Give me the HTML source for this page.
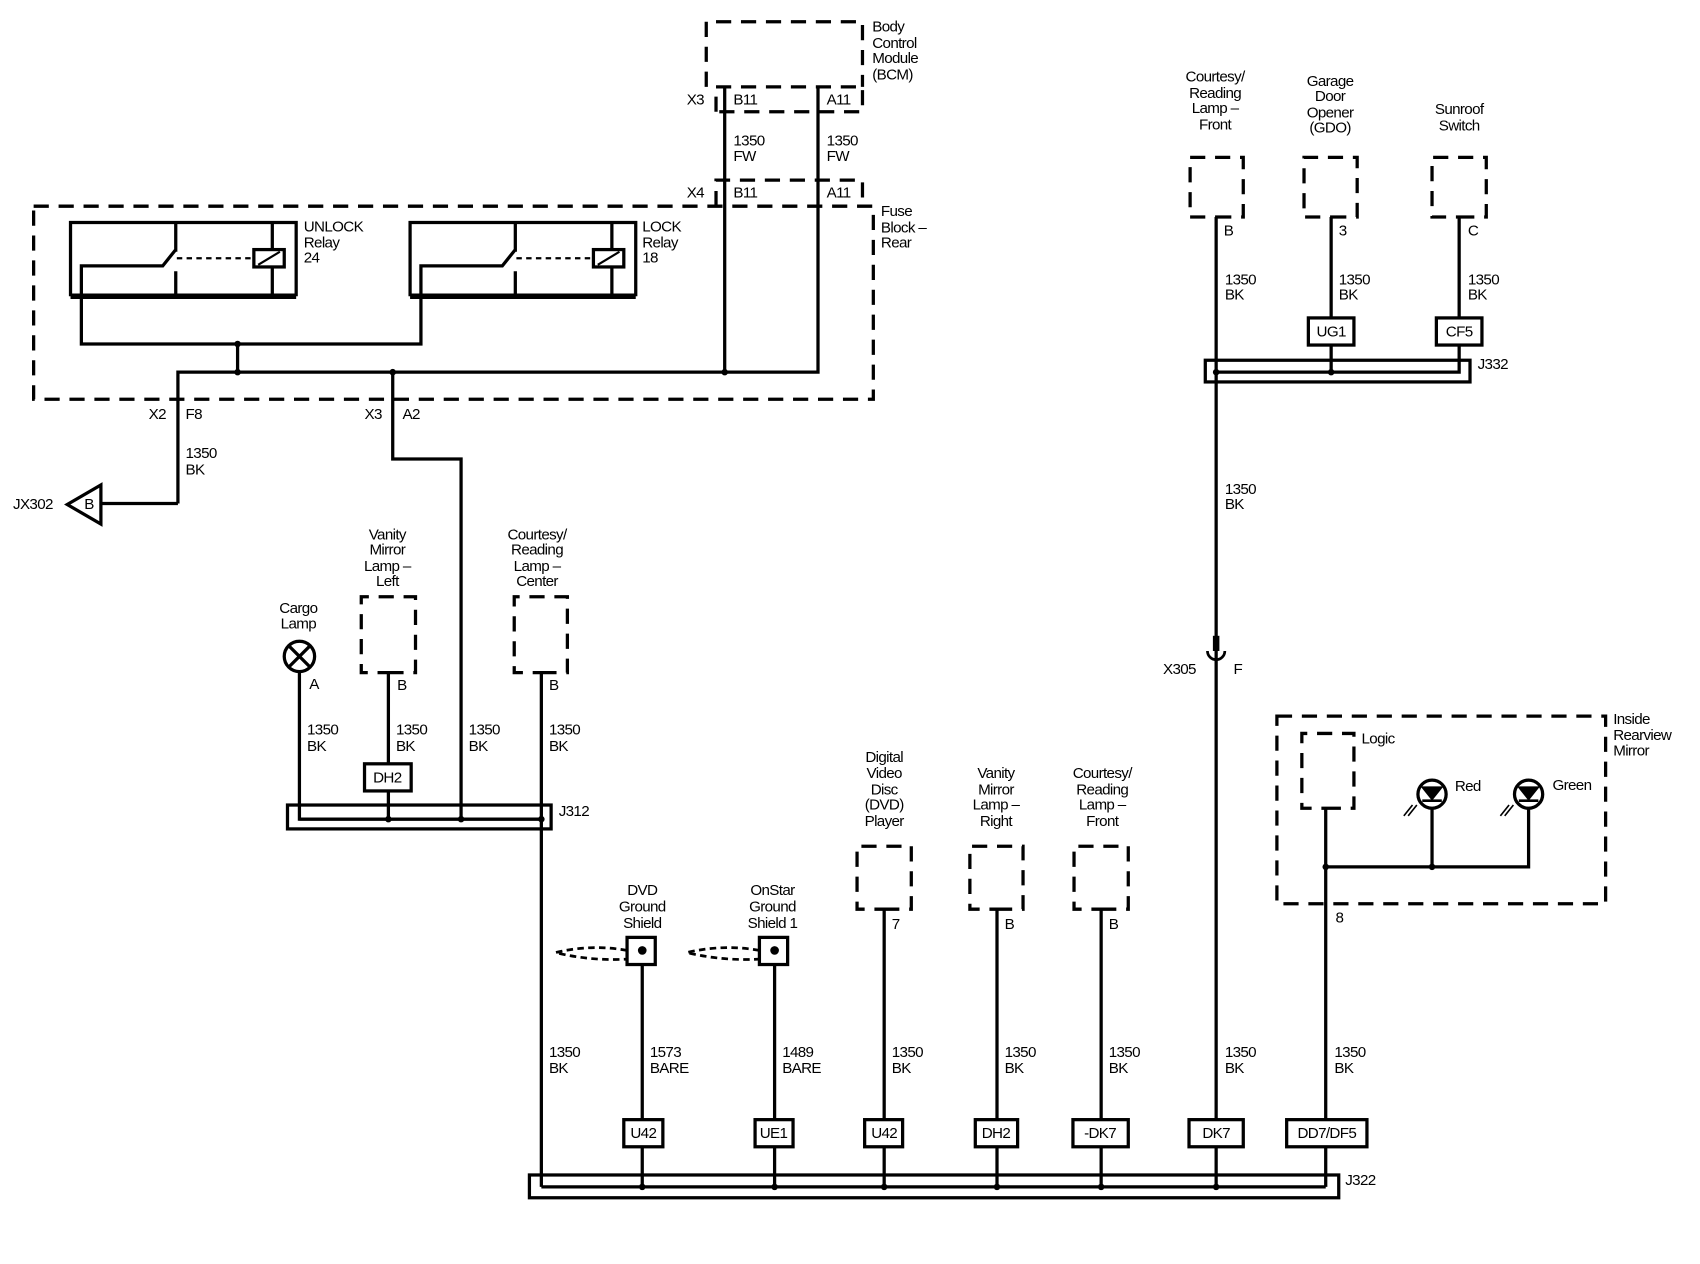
<!DOCTYPE html>
<html><head><meta charset="utf-8"><style>
html,body{margin:0;padding:0;background:#fff;}
svg{display:block;}
text{font-family:"Liberation Sans",sans-serif;font-size:14px;fill:#000;dominant-baseline:central;letter-spacing:-0.6px;}
.c{text-anchor:middle;}
.w{fill:none;stroke:#000;stroke-width:3;}
.d{fill:none;stroke:#000;stroke-width:3;stroke-dasharray:14 9;}
.b{fill:#fff;stroke:#000;stroke-width:3;}
</style></head><body>
<svg width="1700" height="1264" viewBox="0 0 1567 1165" xmlns="http://www.w3.org/2000/svg">
<!-- BCM -->
<path class="d" d="M651,80 V20 H795 V80"/>
<path class="d" d="M660,103 V80 H795 V103 H660"/>
<text x="804" y="25">Body</text><text x="804" y="40">Control</text><text x="804" y="54">Module</text><text x="804" y="69">(BCM)</text>
<text x="633" y="92">X3</text><text x="676" y="92">B11</text><text x="762" y="92">A11</text>
<text x="676" y="130">1350</text><text x="676" y="144">FW</text>
<text x="762" y="130">1350</text><text x="762" y="144">FW</text>
<path class="d" d="M660,190 V166 H795 V190"/>
<text x="633" y="178">X4</text><text x="676" y="178">B11</text><text x="762" y="178">A11</text>
<!-- Fuse block -->
<path class="d" d="M31,190 H805 V368 H31 Z"/>
<text x="812" y="195">Fuse</text><text x="812" y="210">Block –</text><text x="812" y="224">Rear</text>
<!-- relays -->
<g id="r1">
<path class="w" d="M65,273 V205 H273 V273"/>
<path d="M65,273 H273" stroke="#000" stroke-width="5"/>
<path class="w" d="M162,205 V232 M162,250 V273 M251,205 V273 M75,273 V245 H150 L162,230"/>
<path d="M163,238 H234" stroke="#000" stroke-width="2" stroke-dasharray="5 4"/>
<rect x="234" y="230" width="28" height="16" class="b"/>
<path d="M238,244 L258,232" stroke="#000" stroke-width="2"/>
</g>
<use href="#r1" x="313"/>
<text x="280" y="209">UNLOCK</text><text x="280" y="224">Relay</text><text x="280" y="238">24</text>
<text x="592" y="209">LOCK</text><text x="592" y="224">Relay</text><text x="592" y="238">18</text>
<path class="w" d="M75,273 V317 H388 V273 M219,317 V343 M164,464 V343 H754 V80 M668,80 V343"/>
<circle cx="219" cy="317" r="3"/><circle cx="219" cy="343" r="3"/><circle cx="362" cy="343" r="3"/><circle cx="668" cy="343" r="3"/>
<text x="137" y="382">X2</text><text x="171" y="382">F8</text>
<text x="336" y="382">X3</text><text x="371" y="382">A2</text>
<text x="171" y="418">1350</text><text x="171" y="433">BK</text>
<path class="w" d="M164,464 H93"/>
<path class="w" d="M93,447 V483 L62,465 Z"/>
<text x="82" y="465" class="c">B</text>
<text x="12" y="465">JX302</text>
<path class="w" d="M362,343 V423 H425 V755"/>
<!-- left components -->
<circle cx="276" cy="605" r="14" class="w"/>
<path class="w" d="M266,595 L286,615 M286,595 L266,615"/>
<text class="c" x="275" y="561">Cargo</text><text class="c" x="275" y="575">Lamp</text>
<text x="285" y="631">A</text>
<path class="w" d="M276,619 V755 H499"/>
<path class="d" d="M358,620 H383 V550 H333 V620 H358"/>
<text class="c" x="357" y="493">Vanity</text><text class="c" x="357" y="507">Mirror</text><text class="c" x="357" y="522">Lamp –</text><text class="c" x="357" y="536">Left</text>
<text x="366" y="632">B</text>
<path class="w" d="M358,620 V755"/>
<rect x="336" y="704" width="43" height="25" class="b"/><text class="c" x="357" y="717">DH2</text>
<path class="d" d="M499,620 H523 V550 H474 V620 H499"/>
<text class="c" x="495" y="493">Courtesy/</text><text class="c" x="495" y="507">Reading</text><text class="c" x="495" y="522">Lamp –</text><text class="c" x="495" y="536">Center</text>
<text x="506" y="632">B</text>
<rect x="265" y="742" width="243" height="22" fill="none" stroke="#000" stroke-width="3"/>
<path class="w" d="M276,755 H499 M499,620 V1094"/>
<circle cx="358" cy="755" r="3"/><circle cx="425" cy="755" r="3"/><circle cx="499" cy="755" r="3"/>
<text x="515" y="748">J312</text>
<text x="283" y="673">1350</text><text x="283" y="688">BK</text>
<text x="365" y="673">1350</text><text x="365" y="688">BK</text>
<text x="432" y="673">1350</text><text x="432" y="688">BK</text>
<text x="506" y="673">1350</text><text x="506" y="688">BK</text>
<text x="506" y="970">1350</text><text x="506" y="985">BK</text>
<!-- J322 -->
<rect x="488" y="1083" width="746" height="21" fill="none" stroke="#000" stroke-width="3"/>
<path class="w" d="M499,1094 H1222"/>
<text x="1240" y="1088">J322</text>
<!-- ground shields -->
<path class="w" d="M592,878 V1094 M714,878 V1094 M815,838 V1094 M919,838 V1094 M1015,838 V1094"/>
<rect x="578" y="864" width="26" height="25" class="b"/><circle cx="592" cy="876" r="4"/>
<path d="M578,876 Q545,870 512,878 Q545,886 578,884" fill="none" stroke="#000" stroke-width="2.5" stroke-dasharray="6 4"/>
<rect x="700" y="864" width="26" height="25" class="b"/><circle cx="714" cy="876" r="4"/>
<path d="M700,876 Q667,870 633,878 Q667,886 700,884" fill="none" stroke="#000" stroke-width="2.5" stroke-dasharray="6 4"/>
<text class="c" x="592" y="821">DVD</text><text class="c" x="592" y="836">Ground</text><text class="c" x="592" y="851">Shield</text>
<text class="c" x="712" y="821">OnStar</text><text class="c" x="712" y="836">Ground</text><text class="c" x="712" y="851">Shield 1</text>
<text x="599" y="970">1573</text><text x="599" y="985">BARE</text>
<text x="721" y="970">1489</text><text x="721" y="985">BARE</text>
<!-- bottom components -->
<path class="d" d="M815,838 H840 V780 H790 V838 H815"/>
<text class="c" x="815" y="698">Digital</text><text class="c" x="815" y="713">Video</text><text class="c" x="815" y="728">Disc</text><text class="c" x="815" y="742">(DVD)</text><text class="c" x="815" y="757">Player</text>
<text x="822" y="852">7</text>
<path class="d" d="M919,838 H943 V780 H894 V838 H919"/>
<text class="c" x="918" y="713">Vanity</text><text class="c" x="918" y="728">Mirror</text><text class="c" x="918" y="742">Lamp –</text><text class="c" x="918" y="757">Right</text>
<text x="926" y="852">B</text>
<path class="d" d="M1015,838 H1040 V780 H990 V838 H1015"/>
<text class="c" x="1016" y="713">Courtesy/</text><text class="c" x="1016" y="728">Reading</text><text class="c" x="1016" y="742">Lamp –</text><text class="c" x="1016" y="757">Front</text>
<text x="1022" y="852">B</text>
<text x="822" y="970">1350</text><text x="822" y="985">BK</text>
<text x="926" y="970">1350</text><text x="926" y="985">BK</text>
<text x="1022" y="970">1350</text><text x="1022" y="985">BK</text>
<text x="1129" y="970">1350</text><text x="1129" y="985">BK</text>
<text x="1230" y="970">1350</text><text x="1230" y="985">BK</text>
<rect x="575" y="1032" width="36" height="25" class="b"/><text class="c" x="593" y="1045">U42</text>
<rect x="696" y="1032" width="35" height="25" class="b"/><text class="c" x="713" y="1045">UE1</text>
<rect x="797" y="1032" width="35" height="25" class="b"/><text class="c" x="815" y="1045">U42</text>
<rect x="899" y="1032" width="39" height="25" class="b"/><text class="c" x="918" y="1045">DH2</text>
<rect x="989" y="1032" width="51" height="25" class="b"/><text class="c" x="1014" y="1045">-DK7</text>
<circle cx="592" cy="1094" r="3"/><circle cx="714" cy="1094" r="3"/><circle cx="815" cy="1094" r="3"/><circle cx="919" cy="1094" r="3"/><circle cx="1015" cy="1094" r="3"/><circle cx="1121" cy="1094" r="3"/>
<!-- right column -->
<path class="w" d="M1121,200 V1094 M1227,200 V343 M1345,200 V343 H1121 M1222,745 V1094"/>
<path d="M1121,586 V600" stroke="#000" stroke-width="6"/>
<path d="M1113,600 A8,8 0 0 0 1129,600" fill="none" stroke="#000" stroke-width="2.5"/>
<text x="1072" y="617">X305</text><text x="1137" y="617">F</text>
<text x="1129" y="451">1350</text><text x="1129" y="465">BK</text>
<rect x="1096" y="1032" width="50" height="25" class="b"/><text class="c" x="1121" y="1045">DK7</text>
<rect x="1186" y="1032" width="74" height="25" class="b"/><text class="c" x="1223" y="1045">DD7/DF5</text>
<path class="d" d="M1121,200 H1146 V145 H1097 V200 H1121"/>
<text class="c" x="1120" y="71">Courtesy/</text><text class="c" x="1120" y="86">Reading</text><text class="c" x="1120" y="100">Lamp –</text><text class="c" x="1120" y="115">Front</text>
<text x="1128" y="213">B</text>
<path class="d" d="M1227,200 H1251 V145 H1202 V200 H1227"/>
<text class="c" x="1226" y="75">Garage</text><text class="c" x="1226" y="89">Door</text><text class="c" x="1226" y="104">Opener</text><text class="c" x="1226" y="118">(GDO)</text>
<text x="1234" y="213">3</text>
<path class="d" d="M1345,200 H1370 V145 H1320 V200 H1345"/>
<text class="c" x="1345" y="101">Sunroof</text><text class="c" x="1345" y="116">Switch</text>
<text x="1353" y="213">C</text>
<text x="1129" y="258">1350</text><text x="1129" y="272">BK</text>
<text x="1234" y="258">1350</text><text x="1234" y="272">BK</text>
<text x="1353" y="258">1350</text><text x="1353" y="272">BK</text>
<rect x="1206" y="293" width="42" height="25" class="b"/><text class="c" x="1227" y="306">UG1</text>
<rect x="1324" y="293" width="42" height="25" class="b"/><text class="c" x="1345" y="306">CF5</text>
<rect x="1111" y="332" width="244" height="20" fill="none" stroke="#000" stroke-width="3"/>
<circle cx="1121" cy="343" r="3"/><circle cx="1227" cy="343" r="3"/>
<text x="1362" y="336">J332</text>
<!-- mirror -->
<path class="d" d="M1177,660 H1480 V833 H1177 Z"/>
<text x="1487" y="663">Inside</text><text x="1487" y="678">Rearview</text><text x="1487" y="692">Mirror</text>
<path class="d" d="M1222,745 H1248 V676 H1200 V745 H1222"/>
<text x="1255" y="681">Logic</text>
<path class="w" d="M1222,799 H1409 V745 M1320,745 V799"/>
<circle cx="1222" cy="799" r="3"/><circle cx="1320" cy="799" r="3"/>
<circle cx="1320" cy="732" r="13" class="w"/>
<path d="M1312,726 H1328 L1320,736 Z M1311,738 H1329" stroke="#000" stroke-width="2.5"/>
<circle cx="1409" cy="732" r="13" class="w"/>
<path d="M1401,726 H1417 L1409,736 Z M1400,738 H1418" stroke="#000" stroke-width="2.5"/>
<path d="M1306,742 L1298,752 M1302,742 L1294,752" stroke="#000" stroke-width="1.5"/>
<path d="M1395,742 L1387,752 M1391,742 L1383,752" stroke="#000" stroke-width="1.5"/>
<text x="1341" y="725">Red</text><text x="1431" y="724">Green</text>
<text x="1231" y="846">8</text>
</svg>
</body></html>
